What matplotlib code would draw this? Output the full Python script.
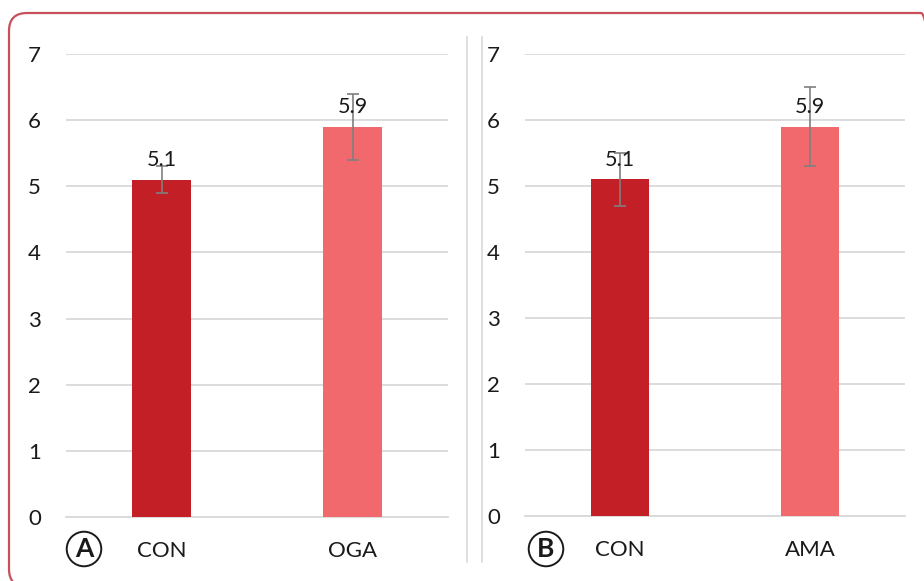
import matplotlib.pyplot as plt
from matplotlib.patches import FancyBboxPatch
from matplotlib.lines import Line2D
from matplotlib.transforms import IdentityTransform

plt.rcParams['font.family'] = ['Lato', 'DejaVu Sans']

groupsA = ["CON", "OGA"]
valuesA = [5.1, 5.9]
errorsA = [0.2, 0.5]

groupsB = ["CON", "AMA"]
valuesB = [5.1, 5.9]
errorsB = [0.4, 0.6]

barColors = ["#C21F26", "#F2696D"]
gridColor = "#D9D9D9"

fig = plt.figure(figsize=(9.24, 5.81), dpi=100)

# rounded red frame, partly cut by the image edge
frame = FancyBboxPatch((9, -6), 930, 581 - 13 + 6,
                       boxstyle="round,pad=0,rounding_size=18",
                       transform=IdentityTransform(),
                       facecolor="none", edgecolor="#C8505A", linewidth=1.6)
fig.patches.append(frame)

# two thin separator lines between the panels
for xp in [467, 482]:
    fig.add_artist(Line2D([xp / 924, xp / 924], [1 - 562 / 581, 1 - 37 / 581],
                          color=gridColor, linewidth=1.2))

def panel(rect, groups, values, errors, letter, letterX):
    ax = fig.add_axes(rect)
    x = range(len(groups))
    ax.bar(x, values, width=0.31, color=barColors, zorder=3)
    ax.errorbar(x, values, yerr=errors, fmt="none", ecolor="#7F7F7F",
                elinewidth=1.2, capsize=4, capthick=1.2, zorder=4)
    for i in x:
        ax.annotate(f"{values[i]:.1f}", (i, values[i]), xytext=(0, 7),
                    textcoords="offset points", ha="center", va="bottom",
                    fontsize=15.5, color="#1A1A1A", zorder=5)
    ax.set_xlim(-0.5, len(groups) - 0.5)
    ax.set_ylim(0, 7)
    ax.set_yticks(range(0, 8))
    ax.set_xticks(list(x))
    ax.set_xticklabels(groups)
    ax.yaxis.grid(True, color=gridColor, linewidth=1.3, zorder=0)
    ax.set_axisbelow(True)
    for s in ["top", "right", "left"]:
        ax.spines[s].set_visible(False)
    ax.spines["bottom"].set_color(gridColor)
    ax.spines["bottom"].set_linewidth(1.3)
    ax.tick_params(axis="both", length=0, labelsize=16, colors="#1A1A1A")
    ax.tick_params(axis="y", pad=18)
    ax.tick_params(axis="x", pad=17)
    fig.text(letterX / 924, 1 - 549 / 581, letter, ha="center", va="center",
             fontsize=19, fontweight="bold", color="#1A1A1A",
             bbox=dict(boxstyle="circle,pad=0.2", facecolor="white",
                       edgecolor="#1A1A1A", linewidth=1.4))
    return ax

panel([66 / 924, 1 - 517 / 581, 382 / 924, 463 / 581],
      groupsA, valuesA, errorsA, "A", 84)
panel([525 / 924, 1 - 516 / 581, 380 / 924, 462 / 581],
      groupsB, valuesB, errorsB, "B", 546)

fig.savefig("out.png", dpi=100)
